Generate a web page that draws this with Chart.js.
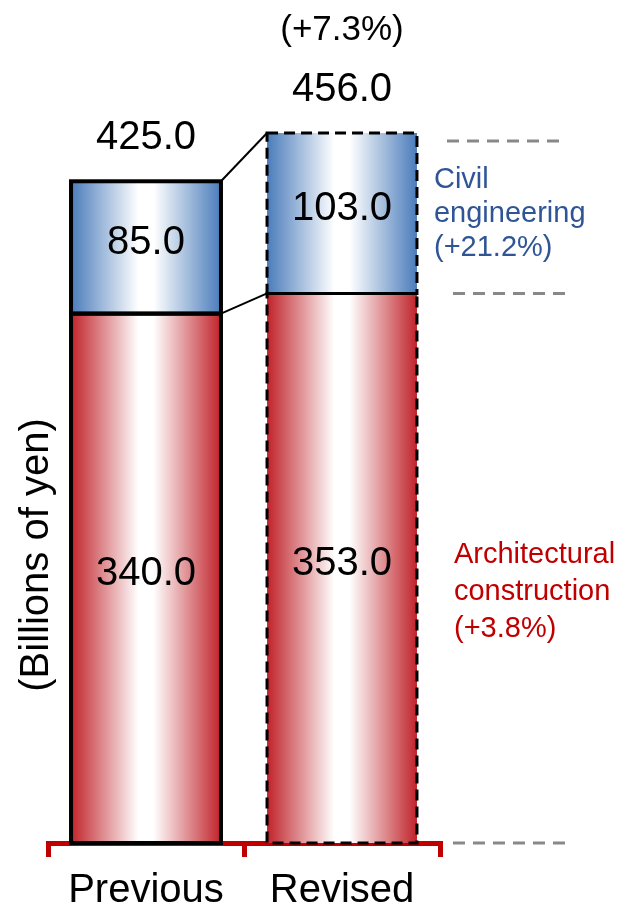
<!DOCTYPE html>
<html>
<head>
<meta charset="utf-8">
<script src="https://cdn.jsdelivr.net/npm/chart.js@4/dist/chart.umd.min.js"></script>
<style>
html, body { margin: 0; padding: 0; background: #fff; }
#wrap { width: 621px; height: 910px; }
</style>
</head>
<body>
<div id="wrap"><canvas id="chart-1"></canvas></div>
<script>
// Order forecast, billions of yen
var categories = ['Previous', 'Revised'];
var architectural = [340.0, 353.0];
var civil = [85.0, 103.0];
var totalChange = '(+7.3%)';
var civilLabel = ['Civil', 'engineering', '(+21.2%)'];
var archLabel = ['Architectural', 'construction', '(+3.8%)'];
var yTitle = '(Billions of yen)';

var FONT = '"Liberation Sans", Arial, sans-serif';
var BAR_PCT = 0.765;
var BLUE = '#4A7CBB';
var RED = '#C0232A';

// horizontal fade: edge colour -> white -> edge colour
function fadeFill(context, edge) {
  var chart = context.chart;
  var xs = chart.scales.x;
  if (!chart.chartArea || !xs) return edge;
  var cx = xs.getPixelForValue(context.dataIndex);
  var half = xs.width / categories.length * BAR_PCT / 2;
  var g = chart.ctx.createLinearGradient(cx - half, 0, cx + half, 0);
  g.addColorStop(0, edge);
  g.addColorStop(0.45, '#ffffff');
  g.addColorStop(0.55, '#ffffff');
  g.addColorStop(1, edge);
  return g;
}

var extras = {
  id: 'extras',
  afterDatasetsDraw: function (chart) {
    var ctx = chart.ctx;
    var arch = chart.getDatasetMeta(0).data;
    var civ = chart.getDatasetMeta(1).data;

    ctx.save();
    // bar outlines (solid for previous, dashed for revised)
    [arch, civ].forEach(function (bars) {
      bars.forEach(function (el, i) {
        ctx.strokeStyle = '#000';
        if (i === 0) { ctx.lineWidth = 4; ctx.setLineDash([]); }
        else { ctx.lineWidth = 3; ctx.setLineDash([11, 6]); }
        ctx.strokeRect(el.x - el.width / 2, el.y, el.width, el.base - el.y);
      });
    });
    ctx.setLineDash([]);

    // connector lines between the two bars
    ctx.lineWidth = 2;
    [civ, arch].forEach(function (bars) {
      ctx.beginPath();
      ctx.moveTo(bars[0].x + bars[0].width / 2, bars[0].y);
      ctx.lineTo(bars[1].x - bars[1].width / 2, bars[1].y);
      ctx.stroke();
    });

    // values inside segments
    ctx.fillStyle = '#000';
    ctx.textAlign = 'center';
    ctx.textBaseline = 'middle';
    ctx.font = '40px ' + FONT;
    [[arch, architectural], [civ, civil]].forEach(function (pair) {
      pair[0].forEach(function (el, i) {
        ctx.fillText(pair[1][i].toFixed(1), el.x, (el.y + el.base) / 2 - 4);
      });
    });

    // totals above bars
    civ.forEach(function (el, i) {
      var total = architectural[i] + civil[i];
      ctx.fillText(total.toFixed(1), el.x, el.y - 43);
    });
    ctx.font = '35px ' + FONT;
    ctx.fillText(totalChange, civ[1].x, civ[1].y - 103);

    // grey guide lines to the right of the revised bar
    var right = civ[1].x + civ[1].width / 2;
    ctx.strokeStyle = '#888';
    ctx.lineWidth = 3;
    ctx.setLineDash([12, 8]);
    [[civ[1].y + 8, 30], [arch[1].y, 36], [arch[1].base, 36]].forEach(function (g) {
      ctx.beginPath();
      ctx.moveTo(right + g[1], g[0]);
      ctx.lineTo(right + g[1] + 115, g[0]);
      ctx.stroke();
    });
    ctx.setLineDash([]);

    // segment names
    ctx.textAlign = 'left';
    ctx.font = '29px ' + FONT;
    ctx.fillStyle = '#2F5597';
    civilLabel.forEach(function (t, k) {
      ctx.fillText(t, right + 17, 180 + k * 34);
    });
    ctx.fillStyle = '#C00000';
    archLabel.forEach(function (t, k) {
      ctx.fillText(t, right + 37, 555 + k * 37);
    });

    // y axis title
    ctx.fillStyle = '#000';
    ctx.font = '40px ' + FONT;
    ctx.translate(37, 555);
    ctx.rotate(-Math.PI / 2);
    ctx.textAlign = 'center';
    ctx.fillText(yTitle, 0, 0);
    ctx.restore();
  }
};

var ctxOne = document.getElementById('chart-1').getContext('2d');
var chart = new Chart(ctxOne, {
  type: 'bar',
  data: {
    labels: categories,
    datasets: [{
      label: 'Architectural construction',
      data: architectural,
      backgroundColor: function (c) { return fadeFill(c, RED); },
      borderWidth: 0
    }, {
      label: 'Civil engineering',
      data: civil,
      backgroundColor: function (c) { return fadeFill(c, BLUE); },
      borderWidth: 0
    }]
  },
  options: {
    responsive: true,
    maintainAspectRatio: false,
    animation: false,
    datasets: { bar: { barPercentage: BAR_PCT, categoryPercentage: 1 } },
    layout: { padding: { left: 48, right: 181, top: 64.5, bottom: -15 } },
    plugins: { legend: { display: false }, tooltip: { enabled: false } },
    scales: {
      x: {
        stacked: true,
        z: 1,
        border: { display: true, color: '#C00000', width: 5 },
        grid: {
          offset: true,
          drawOnChartArea: false,
          drawTicks: true,
          tickLength: 14,
          color: '#C00000',
          lineWidth: 5
        },
        ticks: {
          color: '#000',
          padding: 12,
          font: { family: FONT, size: 40, lineHeight: 1.1 }
        }
      },
      y: {
        stacked: true,
        display: false,
        min: 0,
        max: 500
      }
    }
  },
  plugins: [extras]
});
</script>
</body>
</html>
